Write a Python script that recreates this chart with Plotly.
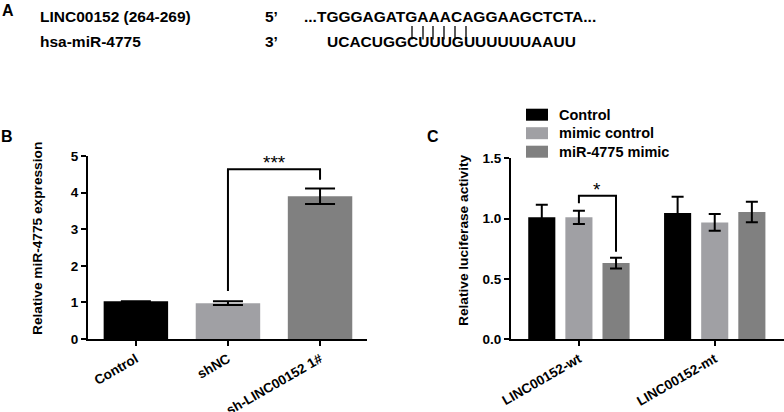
import plotly.graph_objects as go

# ---------------- data ----------------
b_categories = ["Control", "shNC", "sh-LINC00152 1#"]
b_values = [1.03, 0.98, 3.90]
b_errors = [0.0, 0.05, 0.21]
b_colors = ["#000000", "#a0a0a4", "#808080"]
b_ticks = [0, 1, 2, 3, 4, 5]

c_groups = ["LINC00152-wt", "LINC00152-mt"]
c_series = ["Control", "mimic control", "miR-4775 mimic"]
c_values = [[1.01, 1.045], [1.01, 0.968], [0.63, 1.054]]
c_errors = [[0.105, 0.135], [0.055, 0.07], [0.045, 0.085]]
c_colors = ["#000000", "#a0a0a4", "#808080"]
c_ticks = [0.0, 0.5, 1.0, 1.5]
c_ticktext = ["0.0", "0.5", "1.0", "1.5"]

# significance brackets (data units)
b_sig = {"from": 1, "to": 2, "top": 4.64, "left_end": 1.31, "right_end": 4.35, "label": "***"}
c_sig = {"group": 0, "from": 1, "to": 2, "top": 1.189, "left_end": 1.126, "right_end": 0.725, "label": "*"}

W, H = 784, 412
FONT = "Liberation Sans, Arial, sans-serif"


def px(x):
    return x / W


def py(y):
    return 1 - y / H


fig = go.Figure()

# ---------------- panel B ----------------
fig.add_trace(go.Bar(
    x=b_categories, y=b_values, marker=dict(color=b_colors, line=dict(width=0)),
    width=0.7,
    error_y=dict(type="data", array=b_errors, color="black", thickness=2, width=15, visible=True),
    xaxis="x", yaxis="y", showlegend=False,
))

# ---------------- panel C ----------------
bargap = 0.18
for name, vals, errs, col in zip(c_series, c_values, c_errors, c_colors):
    fig.add_trace(go.Bar(
        x=c_groups, y=vals, name=name, marker=dict(color=col, line=dict(width=0)),
        error_y=dict(type="data", array=errs, color="black", thickness=2, width=6, visible=True),
        xaxis="x2", yaxis="y2", showlegend=False,
    ))

axis_common = dict(showline=True, linecolor="black", linewidth=2, showgrid=False, zeroline=False,
                   ticks="outside", ticklen=5, tickwidth=2, tickcolor="black", automargin=False,
                   tickfont=dict(family=FONT, size=13.5, color="black", weight="bold"))

fig.update_layout(
    width=W, height=H, margin=dict(l=0, r=0, t=0, b=0, autoexpand=False),
    paper_bgcolor="white", plot_bgcolor="white",
    barmode="group", bargap=bargap, bargroupgap=0.27,
    xaxis=dict(domain=[px(88), px(367)], range=[-0.52, 2.51], anchor="y",
               tickangle=-30, **axis_common),
    yaxis=dict(domain=[py(339), py(156)], range=[0, 5], anchor="x",
               tickvals=b_ticks, **axis_common),
    xaxis2=dict(domain=[px(511), 1.0], range=[-0.5, 1.51], anchor="y2",
                tickangle=-30, **axis_common),
    yaxis2=dict(domain=[py(339), py(158.3)], range=[0, 1.5], anchor="x2",
                tickvals=c_ticks, ticktext=c_ticktext, **axis_common),
    showlegend=False,
)

shapes = []
annotations = []

# bracket B
shapes.append(dict(type="path", xref="x", yref="y",
                   path=f"M {b_sig['from']},{b_sig['left_end']} L {b_sig['from']},{b_sig['top']} "
                        f"L {b_sig['to']},{b_sig['top']} L {b_sig['to']},{b_sig['right_end']}",
                   line=dict(color="black", width=2)))
annotations.append(dict(xref="x", yref="y", x=(b_sig['from'] + b_sig['to']) / 2, y=b_sig['top'],
                        text=b_sig['label'], showarrow=False, yanchor="bottom", yshift=-6,
                        font=dict(family=FONT, size=19, color="black")))

# bracket C (positions inside grouped bars)
slot = (1 - bargap) / len(c_series)
cx0 = c_sig['group'] + (c_sig['from'] - 1) * slot
cx1 = c_sig['group'] + (c_sig['to'] - 1) * slot
shapes.append(dict(type="path", xref="x2", yref="y2",
                   path=f"M {cx0},{c_sig['left_end']} L {cx0},{c_sig['top']} "
                        f"L {cx1},{c_sig['top']} L {cx1},{c_sig['right_end']}",
                   line=dict(color="black", width=2)))
annotations.append(dict(xref="x2", yref="y2", x=(cx0 + cx1) / 2, y=c_sig['top'],
                        text=c_sig['label'], showarrow=False, yanchor="bottom", yshift=-6,
                        font=dict(family=FONT, size=19, color="black")))

# manual legend for panel C
for i, (name, col) in enumerate(zip(c_series, c_colors)):
    yc = 114.7 + i * 18.5
    shapes.append(dict(type="rect", xref="paper", yref="paper",
                       x0=px(526), x1=px(548), y0=py(yc + 6), y1=py(yc - 6),
                       fillcolor=col, line=dict(width=0)))
    annotations.append(dict(xref="paper", yref="paper", x=px(557), y=py(yc), text=name,
                            showarrow=False, xanchor="left", yanchor="middle",
                            font=dict(family=FONT, size=14.5, color="black", weight="bold")))

# axis titles
annotations.append(dict(xref="paper", yref="paper", x=px(38), y=py(239),
                        text="Relative miR-4775 expression", textangle=-90, showarrow=False,
                        xanchor="center", yanchor="middle",
                        font=dict(family=FONT, size=13.7, color="black", weight="bold")))
annotations.append(dict(xref="paper", yref="paper", x=px(464), y=py(240),
                        text="Relative luciferase activity", textangle=-90, showarrow=False,
                        xanchor="center", yanchor="middle",
                        font=dict(family=FONT, size=13.7, color="black", weight="bold")))

# panel letters
for letter, x, y in [("A", 8, 11), ("B", 7, 137), ("C", 433, 137)]:
    annotations.append(dict(xref="paper", yref="paper", x=px(x), y=py(y), text=letter,
                            showarrow=False, xanchor="center", yanchor="middle",
                            font=dict(family=FONT, size=16, color="black", weight="bold")))

# panel A: sequence alignment
seq_font = dict(family=FONT, size=15.5, color="black", weight="bold")
for txt, x, y in [("LINC00152 (264-269)", 38, 17), ("hsa-miR-4775", 38, 42),
                  ("5\u2019", 263, 17), ("3\u2019", 263, 42),
                  ("...TGGGAGATGAAACAGGAAGCTCTA...", 302, 17),
                  ("UCACUGGCUUUGUUUUUUAAUU", 325, 42)]:
    annotations.append(dict(xref="paper", yref="paper", x=px(x), y=py(y), text=txt,
                            showarrow=False, xanchor="left", yanchor="middle", font=seq_font))

for lx in [412, 423, 433, 444, 455, 466]:
    shapes.append(dict(type="line", xref="paper", yref="paper", x0=px(lx), x1=px(lx),
                       y0=py(26), y1=py(39.5), line=dict(color="black", width=1.3)))

fig.update_layout(shapes=shapes, annotations=annotations)
fig.write_html("out.html", config={"displayModeBar": False},
               post_script="document.body.style.margin='0';document.body.style.overflow='hidden';")
